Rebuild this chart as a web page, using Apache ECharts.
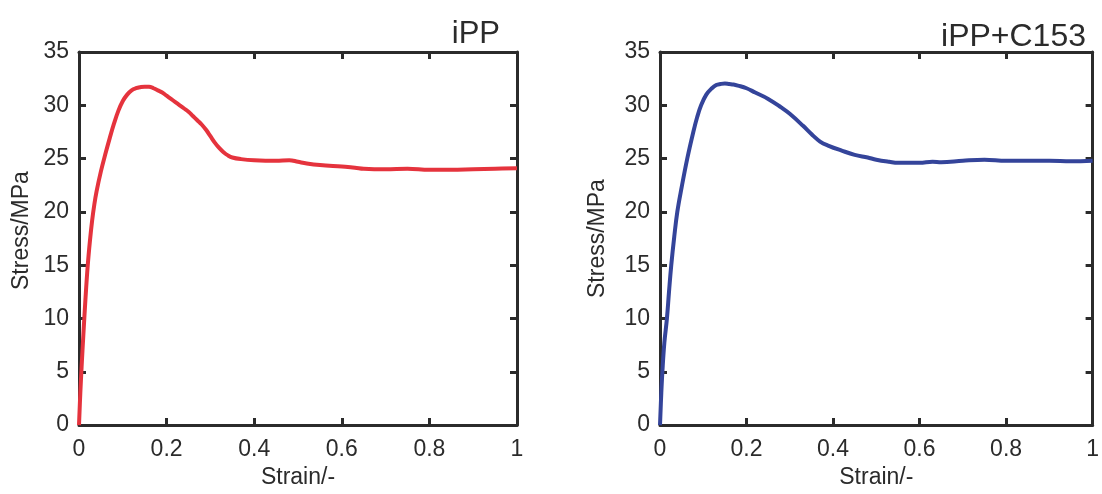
<!DOCTYPE html>
<html>
<head>
<meta charset="utf-8">
<script src="https://cdn.jsdelivr.net/npm/echarts@6/dist/echarts.min.js"></script>
<style>html,body{margin:0;padding:0;background:#fff}#c{width:1102px;height:494px}</style>
</head>
<body>
<div id="c"></div>
<script>
const panelTitles = ['iPP', 'iPP+C153'];
const xTickLabels = ['0', '0.2', '0.4', '0.6', '0.8', '1'];
const yTickLabels = ['0', '5', '10', '15', '20', '25', '30', '35'];
const xName = 'Strain/-';
const yName = 'Stress/MPa';

// iPP (red) : [strain, stress]
const iPP = [
  [0,0],[0.003,3],[0.006,5.5],[0.01,8.5],[0.015,12],[0.02,15],[0.025,17.3],[0.03,19.2],
  [0.035,20.7],[0.04,21.9],[0.05,23.8],[0.06,25.4],[0.07,26.9],[0.08,28.3],[0.09,29.5],
  [0.1,30.4],[0.11,31.0],[0.12,31.4],[0.13,31.6],[0.14,31.7],[0.15,31.75],[0.16,31.75],
  [0.17,31.6],[0.18,31.4],[0.19,31.2],[0.2,30.9],[0.21,30.6],[0.22,30.3],[0.23,30.0],
  [0.24,29.7],[0.25,29.4],[0.26,29.0],[0.27,28.6],[0.28,28.2],[0.29,27.7],[0.3,27.1],
  [0.31,26.5],[0.32,26.0],[0.33,25.6],[0.34,25.3],[0.35,25.1],[0.37,24.95],[0.4,24.85],
  [0.45,24.8],[0.48,24.85],[0.5,24.7],[0.52,24.55],[0.55,24.4],[0.6,24.25],[0.63,24.15],
  [0.65,24.05],[0.7,24.0],[0.75,24.05],[0.8,23.95],[0.85,23.95],[0.9,24.0],[0.95,24.05],[1.0,24.1]
];

// iPP+C153 (blue) : [strain, stress]
const iPPC153 = [
  [0,0],[0.003,3],[0.0055,5],[0.01,7.7],[0.016,10],[0.021,12.6],[0.026,15],[0.033,17.7],
  [0.04,20],[0.05,22.3],[0.063,25],[0.077,27.5],[0.086,28.9],[0.095,30],[0.107,31],
  [0.12,31.6],[0.13,31.9],[0.14,32.0],[0.15,32.05],[0.16,32.0],[0.17,31.95],[0.18,31.85],
  [0.2,31.6],[0.22,31.2],[0.25,30.6],[0.28,29.8],[0.3,29.2],[0.33,28.1],[0.35,27.3],
  [0.37,26.6],[0.39,26.2],[0.42,25.75],[0.45,25.35],[0.48,25.1],[0.5,24.9],[0.53,24.7],
  [0.55,24.6],[0.6,24.6],[0.63,24.7],[0.65,24.65],[0.7,24.8],[0.75,24.9],[0.8,24.8],
  [0.85,24.8],[0.9,24.8],[0.95,24.75],[1.0,24.8]
];

const seriesData = [iPP, iPPC153];
const colors = ['#e5333d', '#34449a'];

const FONT = 'Liberation Sans, Arial, Helvetica, sans-serif';
const INK = '#2b2b2b';
const grids = [
  {left: 79, top: 52, width: 438, height: 375},
  {left: 660, top: 52, width: 437, height: 379}
];

const xAxes = [], yAxes = [], series = [], titles = [];
grids.forEach((g, i) => {
  const xBase = {
    type: 'value', gridIndex: i, min: 0, max: 1, interval: 0.2,
    splitLine: {show: false},
    axisLine: {show: true, onZero: false, lineStyle: {color: INK, width: 3}},
    axisTick: {show: true, inside: true, length: 7, lineStyle: {color: INK, width: 3}}
  };
  xAxes.push(Object.assign({}, xBase, {
    position: 'bottom',
    name: xName, nameLocation: 'middle', nameGap: 37,
    nameTextStyle: {fontFamily: FONT, fontSize: 23, color: INK},
    axisLabel: {fontFamily: FONT, fontSize: 23, color: INK, margin: 13,
      formatter: v => xTickLabels[Math.round(v / 0.2)]}
  }));
  xAxes.push(Object.assign({}, xBase, {position: 'top', axisLabel: {show: false}}));
  const yBase = {
    type: 'value', gridIndex: i, min: 0, max: 35, interval: 5,
    splitLine: {show: false},
    axisLine: {show: true, onZero: false, lineStyle: {color: INK, width: 3}},
    axisTick: {show: true, inside: true, length: 7, lineStyle: {color: INK, width: 3}}
  };
  yAxes.push(Object.assign({}, yBase, {
    position: 'left',
    name: yName, nameLocation: 'middle', nameGap: i === 0 ? 46 : 51, nameRotate: 90,
    nameTextStyle: {fontFamily: FONT, fontSize: 23, color: INK,
      padding: i === 0 ? [0, 0, 0, 16] : 0},
    axisLabel: {fontFamily: FONT, fontSize: 23, color: INK, margin: 10,
      formatter: v => yTickLabels[Math.round(v / 5)]}
  }));
  yAxes.push(Object.assign({}, yBase, {position: 'right', axisLabel: {show: false}}));
  series.push({
    type: 'line', xAxisIndex: 2 * i, yAxisIndex: 2 * i,
    data: seriesData[i], showSymbol: false, smooth: 0.4,
    lineStyle: {color: colors[i], width: 4}, animation: false
  });
});

titles.push({text: panelTitles[0], right: 597, top: 14,
  textStyle: {fontFamily: FONT, fontSize: 31, fontWeight: 'normal', color: INK}});
titles.push({text: panelTitles[1], right: 11, top: 16,
  textStyle: {fontFamily: FONT, fontSize: 32, fontWeight: 'normal', color: INK}});

const chart = echarts.init(document.getElementById('c'), null, {renderer: 'canvas'});
chart.setOption({
  animation: false,
  backgroundColor: '#ffffff',
  title: titles,
  grid: grids,
  xAxis: xAxes,
  yAxis: yAxes,
  series: series
});
</script>
</body>
</html>
